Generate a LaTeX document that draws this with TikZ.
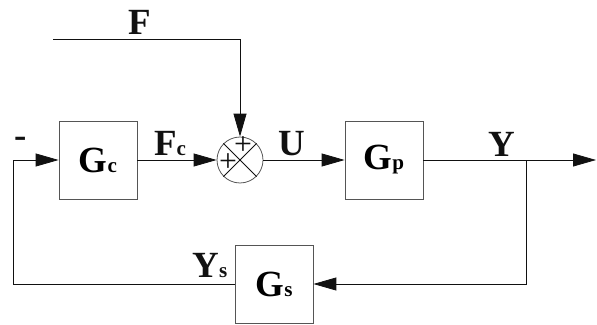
\documentclass[tikz,border=0pt]{standalone}
\usepackage{fontspec}
\setmainfont{Liberation Serif}
\usepackage{xcolor}
\usetikzlibrary{arrows.meta,positioning,calc}
\definecolor{ink}{HTML}{111111}
\definecolor{frame}{HTML}{555555}

\newcommand{\sym}[2]{{\fontsize{21}{21}\selectfont\bfseries #1}{\fontsize{12}{12}\selectfont\bfseries #2}}

\begin{document}
\begin{tikzpicture}[x=0.02cm,y=-0.02cm,
  blockbox/.style={draw=frame,line width=0.45pt,minimum width=1.56cm,minimum height=1.56cm,inner sep=0pt},
  sumnode/.style={draw=frame,line width=0.45pt,circle,minimum size=0.92cm,inner sep=0pt},
  wire/.style={draw=ink,line width=0.45pt},
  sig/.style={wire,-{Triangle[length=0.46cm,width=0.26cm]}},
  lbl/.style={inner sep=0pt,text=ink}]
\useasboundingbox (0,0) rectangle (597,324);
% blocks
\node[blockbox] (gc) at (98,160) {\sym{G}{c}};
\node[sumnode] (sum) at (240,160) {};
\node[blockbox] (gp) at (384,160) {\sym{G}{p}};
\node[blockbox] (gs) at (274,284) {\sym{G}{s}};
\draw[wire] (sum.north west) -- (sum.south east) (sum.north east) -- (sum.south west);
\node[lbl] (plustop) at (243,146) {\fontsize{18}{18}\selectfont +};
\node[lbl] (plusleft) at (228,163) {\fontsize{18}{18}\selectfont +};
% points
\coordinate (fin) at (53,39);
\coordinate (fcorner) at (240,39);
\coordinate (branch) at (526,160);
\coordinate (yout) at (596,160);
\coordinate (bl) at (13,284);
\coordinate (tl) at (13,160);
% connectors
\draw[sig] (fin) -- (fcorner) -- (sum.north);
\draw[sig] (gc.east) -- (sum.west);
\draw[sig] (sum.east) -- (gp.west);
\draw[sig] (gp.east) -- (yout);
\draw[sig] (branch) |- (gs.east);
\draw[sig] (gs.west) -- (bl) -- (tl) -- (gc.west);
% labels
\node[lbl] (lf) at (140,22) {\sym{F}{}};
\node[lbl] (lfc) at (170,144) {\sym{F}{c}};
\node[lbl] (lu) at (292,144) {\sym{U}{}};
\node[lbl] (ly) at (502,144) {\sym{Y}{}};
\node[lbl] (lys) at (210,266) {\sym{Y}{s}};
\node[lbl] (lminus) at (21,142) {\fontsize{21}{21}\selectfont\bfseries -};
\end{tikzpicture}
\end{document}
